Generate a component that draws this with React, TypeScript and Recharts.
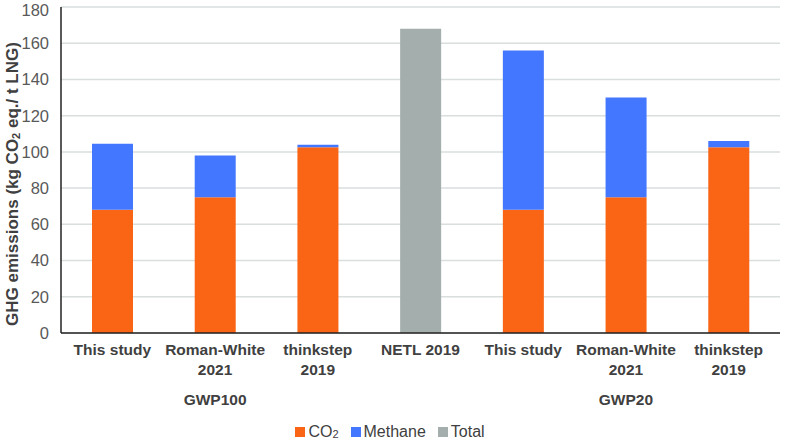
import React from 'react';
import { BarChart, Bar, XAxis, YAxis, CartesianGrid, Legend } from 'recharts';

const categoryLines = [
    ['This study'],
    ['Roman-White', '2021'],
    ['thinkstep', '2019'],
    ['NETL 2019'],
    ['This study'],
    ['Roman-White', '2021'],
    ['thinkstep', '2019'],
];
const groupLabels = ['', 'GWP100', '', '', '', 'GWP20', ''];
const co2Values = [68, 75, 102.5, null, 68, 75, 102.5];
const methaneValues = [36.5, 23, 1.5, null, 88, 55, 3.5];
const totalValues = [null, null, null, 168, null, null, null];
const yTicks = [0, 20, 40, 60, 80, 100, 120, 140, 160, 180];

const data = categoryLines.map((lines, i) => ({
    id: `c${i}`,
    co2: co2Values[i],
    methane: methaneValues[i],
    total: totalValues[i],
}));

const FONT = 'Liberation Sans, Arial, sans-serif';

// two-line category labels
const CategoryTick = ({ x, y, index }: any) => {
    const lines = categoryLines[index] || [];
    return (
        <text x={x} y={y} textAnchor="middle" fontFamily={FONT} fontSize={15.5} fontWeight="bold" fill="#404040">
            {lines.map((l, i) => (
                <tspan key={i} x={x} dy={i === 0 ? 14 : 20}>
                    {l}
                </tspan>
            ))}
        </text>
    );
};

const GroupTick = ({ x, y, index }: any) => (
    <text x={x} y={y + 14} textAnchor="middle" fontFamily={FONT} fontSize={15.5} fontWeight="bold" fill="#404040">
        {groupLabels[index]}
    </text>
);

const YLabel = () => (
    <text
        x={14}
        y={184}
        transform="rotate(-90 14 184)"
        textAnchor="middle"
        dominantBaseline="middle"
        fontFamily={FONT}
        fontSize={17}
        fontWeight="bold"
        fill="#404040"
    >
        GHG emissions (kg CO
        <tspan fontSize={11} dy={3}>2</tspan>
        <tspan dy={-3}> eq./ t LNG)</tspan>
    </text>
);

const LegendContent = ({ payload }: any) => (
    <div
        style={{
            display: 'flex',
            justifyContent: 'center',
            fontFamily: FONT,
            fontSize: 16,
            color: '#404040',
            gap: 12,
            paddingTop: 10,
        }}
    >
        {(payload || []).map((p: any) => (
            <span key={p.value} style={{ display: 'flex', alignItems: 'center' }}>
                <span style={{ width: 10, height: 10, background: p.color, marginRight: 3, display: 'inline-block' }} />
                {p.value === 'CO2' ? (
                    <span>
                        CO<sub style={{ fontSize: 11, verticalAlign: -1 }}>2</sub>
                    </span>
                ) : (
                    p.value
                )}
            </span>
        ))}
    </div>
);

export default function App() {
    return (
        <div style={{ position: 'absolute', left: 0, top: 0, background: '#fff' }}>
            <BarChart
                width={787}
                height={440}
                data={data}
                margin={{ top: 7, right: 7, left: 0, bottom: 0 }}
                barSize={41}
            >
                <CartesianGrid vertical={false} stroke="#D9DEDE" strokeWidth={1.5} />
                <XAxis
                    dataKey="id"
                    tick={<CategoryTick />}
                    tickLine={false}
                    axisLine={{ stroke: '#222', strokeWidth: 1.5 }}
                    height={50}
                    interval={0}
                />
                <XAxis
                    xAxisId="group"
                    dataKey="id"
                    tick={<GroupTick />}
                    tickLine={false}
                    axisLine={false}
                    height={30}
                    interval={0}
                />
                <XAxis
                    xAxisId="top"
                    orientation="top"
                    dataKey="id"
                    tick={false}
                    tickLine={false}
                    axisLine={{ stroke: '#222', strokeWidth: 1.5 }}
                    height={0}
                />
                <YAxis
                    domain={[0, 180]}
                    ticks={yTicks}
                    width={61}
                    tickLine={false}
                    axisLine={{ stroke: '#222', strokeWidth: 1.5 }}
                    tick={{ fontFamily: FONT, fontSize: 16.5, fill: '#595959' }}
                    tickMargin={6}
                    label={(() => <YLabel />) as any}
                />
                <YAxis
                    yAxisId="right"
                    orientation="right"
                    domain={[0, 180]}
                    tick={false}
                    tickLine={false}
                    axisLine={{ stroke: '#222', strokeWidth: 1.5 }}
                    width={0}
                />
                <Legend verticalAlign="bottom" height={27} content={<LegendContent />} />
                <Bar dataKey="co2" name="CO2" stackId="a" fill="#F96415" isAnimationActive={false} />
                <Bar dataKey="methane" name="Methane" stackId="a" fill="#4477FF" isAnimationActive={false} />
                <Bar dataKey="total" name="Total" stackId="a" fill="#A3AEAD" isAnimationActive={false} />
            </BarChart>
        </div>
    );
}
